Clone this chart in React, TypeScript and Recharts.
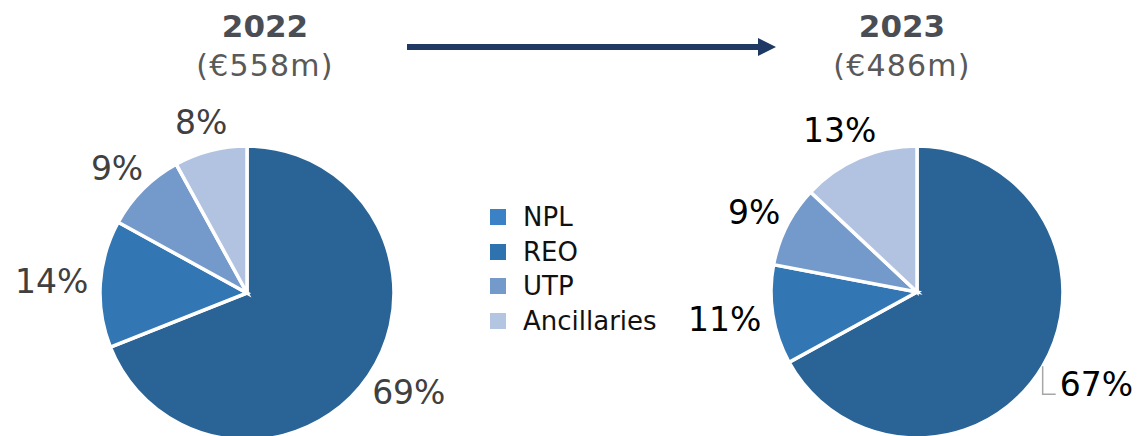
import { PieChart, Pie, Cell, Legend } from "recharts";

const CATEGORIES = ["NPL", "REO", "UTP", "Ancillaries"];
const SHARE_2022 = [69, 14, 9, 8];
const SHARE_2023 = [67, 11, 9, 13];
const YEARS = ["2022", "2023"];
const TOTALS = ["(€558m)", "(€486m)"];

const SLICE_COLORS = ["#2a6496", "#3276b4", "#7499cb", "#b1c3e0"];
const LEGEND_COLORS = ["#3b81c5", "#2f72b0", "#7499cb", "#b3c5e1"];

const FONT = "'DejaVu Sans', Verdana, sans-serif";
const RADIAN = Math.PI / 180;

const toRows = (values: number[]) =>
  CATEGORIES.map((name, i) => ({ name, value: values[i] }));

const data2022 = toRows(SHARE_2022);
const data2023 = toRows(SHARE_2023);

const makeLabel = (color: string, leaderIdx?: number) => (props: any) => {
  const { cx, cy, midAngle, outerRadius, value, index } = props;
  const fs = 33;
  const text = `${value}%`;
  const cos = Math.cos(-midAngle * RADIAN);
  const sin = Math.sin(-midAngle * RADIAN);

  if (index === leaderIdx) {
    // leader line: straight down from the slice edge, then a short tick right
    const sx = cx + outerRadius * cos;
    const sy = cy + outerRadius * sin;
    const ey = sy + 28;
    const ex = sx + 13;
    return (
      <g>
        <polyline
          points={`${sx},${sy} ${sx},${ey} ${ex},${ey}`}
          fill="none"
          stroke="#a6a6a6"
          strokeWidth={1.5}
        />
        <text x={ex + 4} y={ey - 10} fill={color} fontSize={fs} fontFamily={FONT}
          textAnchor="start" dominantBaseline="central">
          {text}
        </text>
      </g>
    );
  }

  const r = outerRadius + 13;
  const px = cx + r * cos;
  const py = cy + r * sin;
  const w = text.length * fs * 0.72;
  const h = fs;
  const tx = px + (cos * w) / 2;
  const ty = py + (sin * h) / 2;
  return (
    <text x={tx} y={ty} fill={color} fontSize={fs} fontFamily={FONT}
      textAnchor="middle" dominantBaseline="central">
      {text}
    </text>
  );
};

const renderLegend = () => (
  <div style={{ fontFamily: FONT, fontSize: 26, color: "#111" }}>
    {CATEGORIES.map((name, i) => (
      <div key={name} style={{ display: "flex", alignItems: "center", height: 34.5 }}>
        <span style={{ width: 16, height: 16, background: LEGEND_COLORS[i], marginRight: 17 }} />
        <span>{name}</span>
      </div>
    ))}
  </div>
);

const Title = ({ year, total, x }: { year: string; total: string; x: number }) => (
  <div style={{ position: "absolute", left: x - 130, top: 6, width: 260, textAlign: "center",
    fontFamily: FONT, lineHeight: "40px" }}>
    <div style={{ fontSize: 31, fontWeight: "bold", color: "#4a4e54" }}>{year}</div>
    <div style={{ fontSize: 30, letterSpacing: 1.2, color: "#595959" }}>{total}</div>
  </div>
);

export default function App() {
  return (
    <div style={{ position: "absolute", left: 0, top: 0, width: 1140, height: 436, background: "#fff", overflow: "hidden" }}>
      <PieChart width={1140} height={436} margin={{ top: 0, right: 0, bottom: 0, left: 0 }}>
        <Pie
          data={data2022}
          dataKey="value"
          nameKey="name"
          cx={247}
          cy={293}
          outerRadius={147}
          startAngle={90}
          endAngle={-270}
          stroke="#fff"
          strokeWidth={3.5}
          label={makeLabel("#404040")}
          labelLine={false}
          isAnimationActive={false}
        >
          {data2022.map((_, i) => (
            <Cell key={i} fill={SLICE_COLORS[i]} />
          ))}
        </Pie>
        <Pie
          data={data2023}
          dataKey="value"
          nameKey="name"
          cx={917}
          cy={292}
          outerRadius={146}
          startAngle={90}
          endAngle={-270}
          stroke="#fff"
          strokeWidth={3.5}
          label={makeLabel("#000", 0)}
          labelLine={false}
          isAnimationActive={false}
        >
          {data2023.map((_, i) => (
            <Cell key={i} fill={SLICE_COLORS[i]} />
          ))}
        </Pie>
        <Legend
          content={renderLegend}
          layout="vertical"
          wrapperStyle={{ position: "absolute", left: 490, top: 200, width: 220 }}
        />
      </PieChart>
      <Title year={YEARS[0]} total={TOTALS[0]} x={265} />
      <Title year={YEARS[1]} total={TOTALS[1]} x={902} />
      <svg style={{ position: "absolute", left: 0, top: 0 }} width={1140} height={80}>
        <line x1={407} y1={47} x2={760} y2={47} stroke="#1f3864" strokeWidth={6} />
        <polygon points="758,38 776,47 758,56" fill="#1f3864" />
      </svg>
    </div>
  );
}
